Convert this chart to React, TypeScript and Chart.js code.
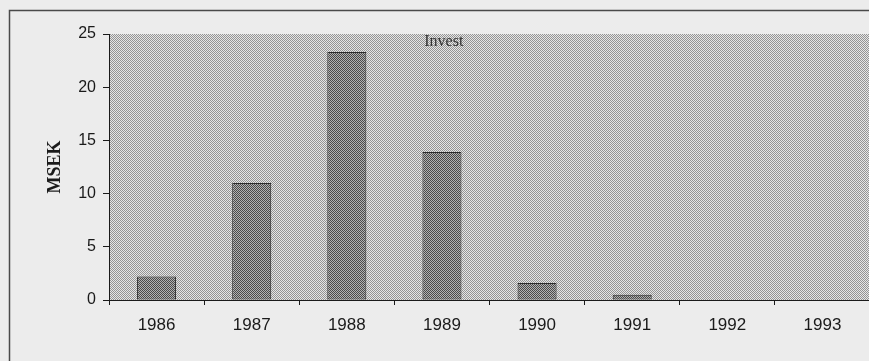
import { useEffect, useRef } from "react";
import { Chart, registerables } from "chart.js";

Chart.register(...registerables);

// Annual investment, million SEK
const years = ["1986", "1987", "1988", "1989", "1990", "1991", "1992", "1993"];
const investMSEK = [2.2, 11.0, 23.3, 13.9, 1.6, 0.5, 0, 0];
const yTickValues = [0, 5, 10, 15, 20, 25];
const chartTitle = "Invest";
const yAxisTitle = "MSEK";

const PAGE_BG = "#ececec";
const INK = "#1a1a1a";

// 2x2 checker used for the halftone-style fills
function checker(light: string, dark: string): CanvasPattern | string {
  const c = document.createElement("canvas");
  c.width = 2;
  c.height = 2;
  const g = c.getContext("2d");
  if (!g) return dark;
  g.fillStyle = light;
  g.fillRect(0, 0, 2, 2);
  g.fillStyle = dark;
  g.fillRect(0, 0, 1, 1);
  g.fillRect(1, 1, 1, 1);
  return g.createPattern(c, "repeat") || dark;
}

export default function App() {
  const canvasRef = useRef<HTMLCanvasElement | null>(null);

  useEffect(() => {
    const canvas = canvasRef.current;
    if (!canvas) return;

    const plotFill = checker("#e6e6e6", "#949494");
    const barFill = checker("#b2b2b2", "#4a4a4a");

    const backdrop = {
      id: "backdrop",
      beforeDraw(chart: any) {
        const { ctx, width, height, chartArea } = chart;
        ctx.save();
        ctx.fillStyle = PAGE_BG;
        ctx.fillRect(0, 0, width, height);
        // outer frame
        ctx.strokeStyle = "#4a4a4a";
        ctx.lineWidth = 1.5;
        ctx.strokeRect(9.5, 10.5, width + 20, height + 20);
        // plot area
        ctx.fillStyle = plotFill;
        ctx.fillRect(
          chartArea.left,
          chartArea.top,
          chartArea.right - chartArea.left,
          chartArea.bottom - chartArea.top
        );
        ctx.restore();
      },
      afterDatasetsDraw(chart: any) {
        const { ctx, chartArea } = chart;
        ctx.save();
        ctx.fillStyle = "#333333";
        ctx.font = "16px 'Liberation Serif', 'Times New Roman', serif";
        ctx.textAlign = "center";
        ctx.textBaseline = "middle";
        const x = chartArea.left + 0.44 * (chartArea.right - chartArea.left);
        ctx.fillText(chartTitle, x, chartArea.top + 8);
        ctx.restore();
      },
    };

    const chart = new Chart(canvas, {
      type: "bar",
      data: {
        labels: years,
        datasets: [
          {
            label: chartTitle,
            data: investMSEK,
            backgroundColor: barFill as any,
            borderColor: "#2c2c2c",
            borderWidth: 1,
            borderSkipped: false,
            barPercentage: 0.41,
            categoryPercentage: 1,
          },
        ],
      },
      options: {
        responsive: false,
        animation: false,
        devicePixelRatio: 1,
        layout: { padding: { left: 0, top: 34, right: 5, bottom: 0 } },
        plugins: {
          legend: { display: false },
          title: { display: false },
          tooltip: { enabled: false },
        },
        scales: {
          x: {
            grid: {
              display: true,
              drawOnChartArea: false,
              drawTicks: true,
              tickLength: 5,
              offset: true,
              color: INK,
            },
            border: { display: true, color: INK, width: 1 },
            ticks: {
              color: INK,
              padding: 10,
              font: { family: "'Liberation Sans', Arial, sans-serif", size: 17 },
            },
            afterFit(scale: any) {
              scale.height = 61;
            },
          },
          y: {
            min: 0,
            max: 25,
            afterBuildTicks(scale: any) {
              scale.ticks = yTickValues.map((v) => ({ value: v }));
            },
            grid: {
              display: true,
              drawOnChartArea: false,
              drawTicks: true,
              tickLength: 6,
              color: INK,
            },
            border: { display: true, color: INK, width: 1 },
            ticks: {
              color: INK,
              padding: 7,
              font: { family: "'Liberation Sans', Arial, sans-serif", size: 16 },
            },
            title: {
              display: true,
              text: yAxisTitle,
              color: INK,
              padding: { top: 45, bottom: 0 },
              font: {
                family: "'Liberation Serif', 'Times New Roman', serif",
                size: 18,
                weight: "bold",
              },
            },
            afterFit(scale: any) {
              scale.width = 109;
            },
          },
        },
      },
      plugins: [backdrop],
    });

    return () => chart.destroy();
  }, []);

  return (
    <div
      style={{
        position: "absolute",
        left: 0,
        top: 0,
        width: 869,
        height: 361,
        overflow: "hidden",
        background: PAGE_BG,
      }}
    >
      <canvas
        ref={canvasRef}
        width={875}
        height={361}
        style={{ display: "block", width: 875, height: 361 }}
      />
    </div>
  );
}
